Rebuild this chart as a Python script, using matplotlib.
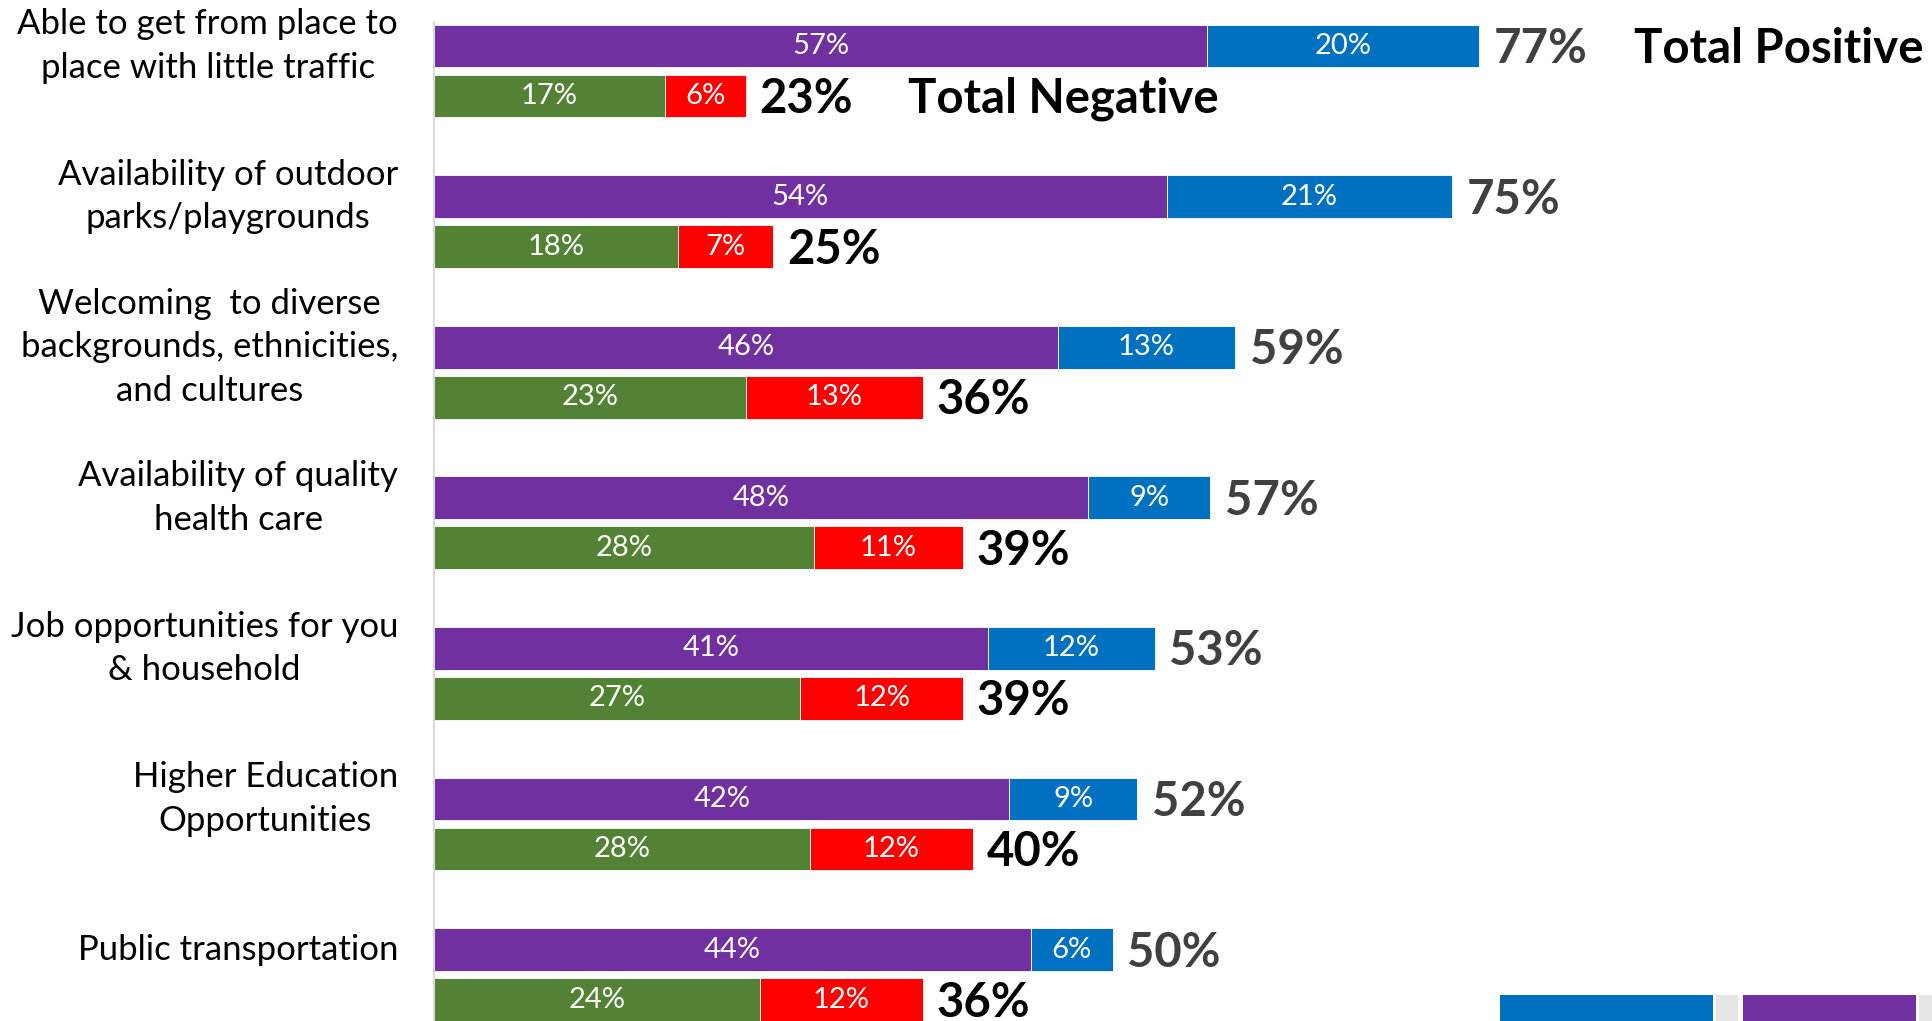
import matplotlib.pyplot as plt
from matplotlib.patches import Rectangle

# ---------------------------------------------------------------
# Data
# ---------------------------------------------------------------
categories = [
    "Able to get from place to\nplace with little traffic",
    "Availability of outdoor\nparks/playgrounds",
    "Welcoming  to diverse\nbackgrounds, ethnicities,\nand cultures",
    "Availability of quality\nhealth care",
    "Job opportunities for you\n& household",
    "Higher Education\nOpportunities",
    "Public transportation",
]
very_positive = [57, 54, 46, 48.2, 40.8, 42.4, 44]
somewhat_positive = [20, 21, 13, 9, 12.3, 9.4, 6]
total_positive = [77, 75, 59, 57, 53, 52, 50]
somewhat_negative = [17, 18, 23, 28, 27, 27.7, 24]
very_negative = [6, 7, 13, 11, 12, 12, 12]
total_negative = [23, 25, 36, 39, 39, 40, 36]

PURPLE = "#7030A0"
BLUE = "#0070C0"
GREEN = "#548235"
RED = "#FF0000"
FONT = ["Lato", "DejaVu Sans"]

plt.rcParams["font.family"] = FONT

W, H = 1932, 1021
fig = plt.figure(figsize=(W / 100, H / 100), dpi=100)
ax_left = 434 / W
ax_top = 22 / H
ax = fig.add_axes([ax_left, 0, 1 - ax_left, 1 - ax_top])

px_per_unit = 13.57
ax.set_xlim(0, (W - 434) / px_per_unit)
group_px = 150.6
ax.set_ylim((H - 71) / group_px, (22 - 71) / group_px)

bar_h = 0.285
off = 0.166
seg_fs = 21
tot_fs = 34
for i in range(len(categories)):
    yp = i - off
    yn = i + off
    ax.barh(yp, very_positive[i], height=bar_h, color=PURPLE, edgecolor="white", linewidth=0.6)
    ax.barh(yp, somewhat_positive[i], left=very_positive[i], height=bar_h, color=BLUE,
            edgecolor="white", linewidth=0.6)
    ax.barh(yn, somewhat_negative[i], height=bar_h, color=GREEN, edgecolor="white", linewidth=0.6)
    ax.barh(yn, very_negative[i], left=somewhat_negative[i], height=bar_h, color=RED,
            edgecolor="white", linewidth=0.6)

    # segment labels
    ax.text(very_positive[i] / 2, yp, f"{very_positive[i]:.0f}%", color="white", fontsize=seg_fs,
            ha="center", va="center")
    ax.text(very_positive[i] + somewhat_positive[i] / 2, yp, f"{somewhat_positive[i]:.0f}%",
            color="white", fontsize=seg_fs, ha="center", va="center")
    ax.text(somewhat_negative[i] / 2, yn, f"{somewhat_negative[i]:.0f}%", color="white",
            fontsize=seg_fs, ha="center", va="center")
    ax.text(somewhat_negative[i] + very_negative[i] / 2, yn, f"{very_negative[i]:.0f}%",
            color="white", fontsize=seg_fs, ha="center", va="center")

    # totals
    end_p = very_positive[i] + somewhat_positive[i]
    end_n = somewhat_negative[i] + very_negative[i]
    ax.text(end_p + 1.1, yp + 0.02, f"{total_positive[i]}%", color="#404040",
            fontsize=tot_fs, fontweight="bold", ha="left", va="center")
    ax.text(end_n + 1.0, yn + 0.02, f"{total_negative[i]}%", color="black",
            fontsize=tot_fs, fontweight="bold", ha="left", va="center")

    # category label
    ax.text(-2.65, yp, categories[i], fontsize=25, ha="right", va="center",
            multialignment="center", linespacing=1.45, color="black")

ax.text(88.4, -off + 0.02, "Total Positive", fontsize=tot_fs, fontweight="bold", ha="left", va="center")
ax.text(34.9, off + 0.02, "Total Negative", fontsize=tot_fs, fontweight="bold", ha="left", va="center")

ax.set_xticks([])
ax.set_yticks([])
for s in ["top", "right", "bottom"]:
    ax.spines[s].set_visible(False)
ax.spines["left"].set_color("#D9D9D9")
ax.spines["left"].set_linewidth(1.5)

# cut-off legend swatches in the bottom right corner
for x0, x1, c in [(1500, 1713, BLUE), (1716, 1738, "#E7E6E6"), (1743, 1916, PURPLE), (1919, 1932, "#E7E6E6")]:
    fig.add_artist(Rectangle((x0 / W, 0), (x1 - x0) / W, 26 / H, transform=fig.transFigure,
                             facecolor=c, edgecolor="none"))

fig.savefig("out.png", dpi=100)
